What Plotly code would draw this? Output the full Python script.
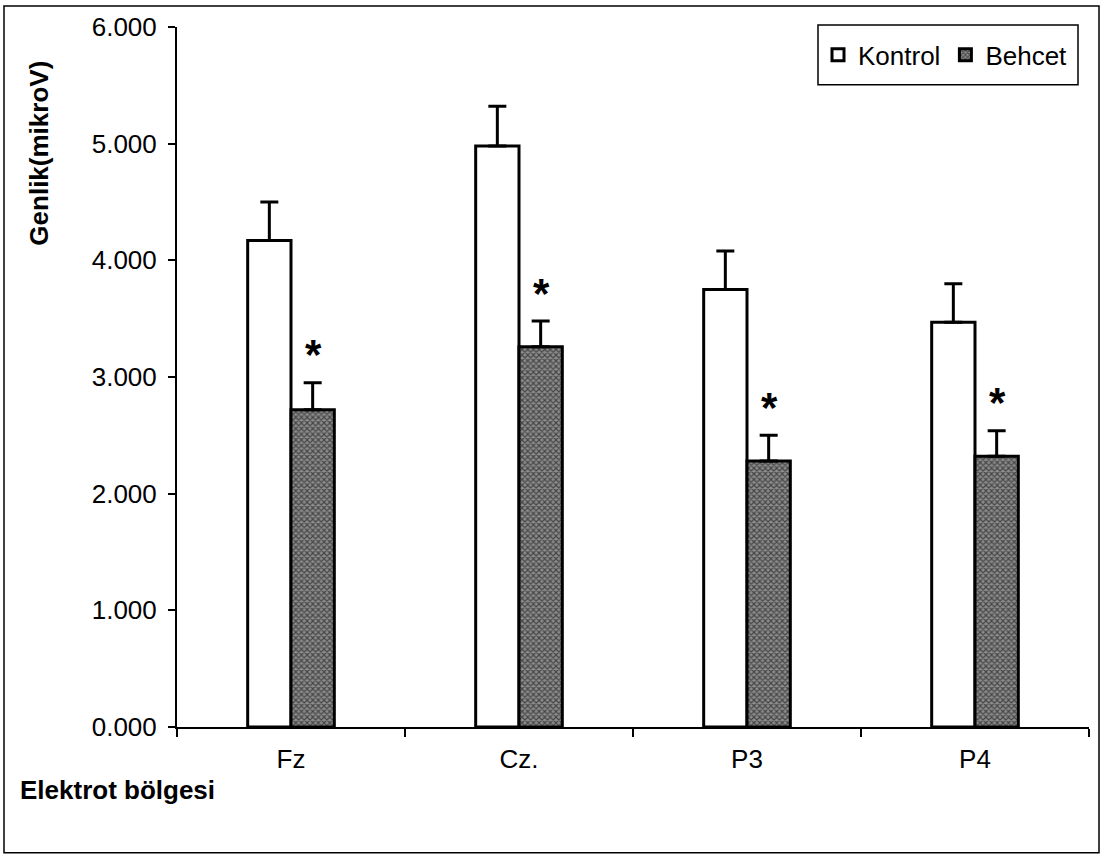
import plotly.graph_objects as go

categories = ["Fz", "Cz.", "P3", "P4"]
kontrol = [4.17, 4.98, 3.75, 3.47]
kontrol_err = [0.33, 0.34, 0.33, 0.33]
behcet = [2.72, 3.26, 2.28, 2.32]
behcet_err = [0.23, 0.22, 0.22, 0.22]
y_ticks = [0, 1, 2, 3, 4, 5, 6]

FONT = "Arial, Liberation Sans, sans-serif"
L, R, T, B = 177, 15, 25, 130
PW, PH = 1104 - L - R, 857 - T - B


def px_x(x):
    return (x - L) / PW


def px_y(y):
    return (857 - B - y) / PH


fig = go.Figure()
fig.add_trace(go.Bar(
    name="Kontrol", x=categories, y=kontrol,
    marker=dict(color="white", line=dict(color="black", width=3)),
    error_y=dict(type="data", array=kontrol_err, arrayminus=[0] * 4, symmetric=False,
                 color="black", thickness=3, width=9),
))
fig.add_trace(go.Bar(
    name="Behcet", x=categories, y=behcet,
    marker=dict(color="#444444", line=dict(color="black", width=3),
                pattern=dict(shape="x", fgcolor="black", bgcolor="#8c8c8c", size=4, solidity=0.5)),
    error_y=dict(type="data", array=behcet_err, arrayminus=[0] * 4, symmetric=False,
                 color="black", thickness=3, width=9),
))

for c, v, e in zip(categories, behcet, behcet_err):
    fig.add_annotation(x=c, y=v + e, text="<b>*</b>", showarrow=False,
                       xshift=22, yshift=28, font=dict(size=42, family=FONT, color="black"))

fig.add_annotation(xref="paper", yref="paper", x=px_x(18), y=px_y(790),
                   xanchor="left", yanchor="middle", showarrow=False,
                   text="<b>Elektrot bölgesi</b>", font=dict(size=26, family=FONT, color="black"))
fig.add_annotation(xref="paper", yref="paper", x=px_x(39), y=px_y(152),
                   xanchor="center", yanchor="middle", showarrow=False, textangle=-90,
                   text="<b>Genlik(mikroV)</b>", font=dict(size=26, family=FONT, color="black"))

# outer frame
fig.add_shape(type="rect", xref="paper", yref="paper",
              x0=px_x(4), x1=px_x(1099), y0=px_y(853), y1=px_y(4),
              line=dict(color="black", width=1.5), fillcolor="rgba(0,0,0,0)")
# legend frame
fig.add_shape(type="rect", xref="paper", yref="paper",
              x0=px_x(818), x1=px_x(1078), y0=px_y(83), y1=px_y(23),
              line=dict(color="black", width=1.5), fillcolor="rgba(0,0,0,0)")

fig.update_layout(
    width=1104, height=857,
    margin=dict(l=L, r=R, t=T, b=B),
    paper_bgcolor="white", plot_bgcolor="white",
    barmode="group", bargap=0.62, bargroupgap=0,
    font=dict(family=FONT, size=26, color="black"),
    showlegend=True,
    legend=dict(orientation="h", x=px_x(818), xanchor="left", y=px_y(53), yanchor="middle",
                borderwidth=0, bgcolor="rgba(0,0,0,0)",
                font=dict(size=26, family=FONT), itemwidth=30),
    xaxis=dict(showline=True, linecolor="black", linewidth=2, ticks="outside",
               tickson="boundaries", ticklen=8, tickcolor="black", tickwidth=2,
               showgrid=False, ticklabelstandoff=8, tickfont=dict(size=26)),
    yaxis=dict(range=[0, 6], tickvals=y_ticks, tickformat=".3f", showline=True,
               linecolor="black", linewidth=2, ticks="outside", ticklen=7,
               tickcolor="black", tickwidth=2, showgrid=False, zeroline=False,
               ticklabelstandoff=6, tickfont=dict(size=26)),
)

fig.write_html("out.html")
